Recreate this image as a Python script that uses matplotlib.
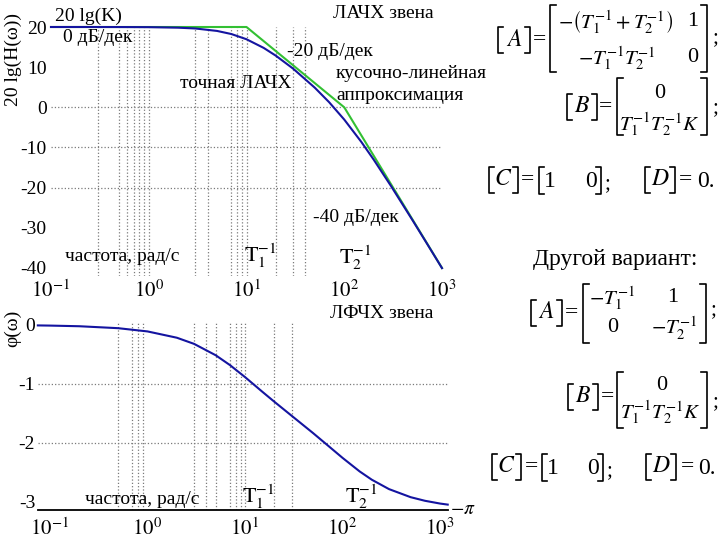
import numpy as np
import matplotlib
matplotlib.use('Agg')
import matplotlib.pyplot as plt
from matplotlib.lines import Line2D

plt.rcParams['font.family'] = ['Liberation Serif', 'DejaVu Serif']
plt.rcParams['mathtext.fontset'] = 'stix'
plt.rcParams['axes.unicode_minus'] = False

# data
freq = [0.075, 0.1, 0.2, 0.5, 1, 2, 3, 5, 7, 10, 15, 20, 30, 50, 70,
        100, 150, 200, 300, 500, 700, 1000, 1200]
mag_db = [20.0, 20.0, 20.0, 19.99, 19.96, 19.83, 19.63, 19.02, 18.25, 16.95,
          14.79, 12.84, 9.63, 4.88, 1.28, -3.05, -8.66, -13.02, -19.55,
          -28.13, -33.89, -40.04, -43.2]
phase = [-0.008, -0.011, -0.022, -0.055, -0.110, -0.217, -0.321, -0.514,
         -0.681, -0.885, -1.132, -1.304, -1.540, -1.837, -2.040, -2.256,
         -2.487, -2.628, -2.787, -2.924, -2.985, -3.032, -3.050]
asym_freq = [0.1, 10, 100, 1000]
asym_db = [20, 20, 0, -40]

grid_top = [0.3, 0.5, 0.6, 0.7, 0.8, 0.9, 1, 3, 4, 7, 8, 9, 10, 20, 30, 40]
grid_bot = [0.5, 0.7, 0.8, 0.9, 3, 4, 5, 7, 8, 9, 10, 20, 30]
xticks = [0.1, 1, 10, 100, 1000]
xticklabels = [r'$10^{-1}$', r'$10^{0}$', r'$10^{1}$', r'$10^{2}$', r'$10^{3}$']
yticks_top = [20, 10, 0, -10, -20, -30, -40]
yticks_bot = [0, -1, -2, -3]

W, H = 720, 540
BLUE = '#1414a0'
GREEN = '#33c033'
GRID = '#7a7a7a'


def fx(x):
    return x / W


def fy(y):
    return 1 - y / H


fig = plt.figure(figsize=(7.2, 5.4), dpi=100)

# ---- magnitude ----
ax1 = fig.add_axes([fx(51), fy(276), (442 - 51) / W, (276 - 27) / H])
ax1.set_xscale('log')
ax1.set_xlim(0.1, 1000)
ax1.set_ylim(-42, 20)
for f in grid_top:
    ax1.axvline(f, color=GRID, ls=':', lw=0.9)
for v in [0, -10, -20]:
    ax1.axhline(v, color=GRID, ls=':', lw=0.9)
ax1.plot(asym_freq, asym_db, color=GREEN, lw=1.5, clip_on=False)
ax1.plot(freq[1:-1], mag_db[1:-1], color=BLUE, lw=1.5, clip_on=False)
ax1.set_xticks(xticks)
ax1.set_xticklabels(xticklabels, fontsize=15)
ax1.set_yticks(yticks_top)
ax1.set_yticklabels([str(v) for v in yticks_top], fontsize=14)
ax1.xaxis.set_minor_locator(matplotlib.ticker.NullLocator())
ax1.tick_params(length=0)
ax1.tick_params(axis='x', pad=3)
ax1.tick_params(axis='y', pad=3)
for s in ax1.spines.values():
    s.set_visible(False)

# ---- phase ----
x0, x1 = 38, 448
ax2 = fig.add_axes([fx(x0), fy(510), (x1 - x0) / W, (510 - 322) / H])
ax2.set_xscale('log')
ax2.set_xlim(0.0753, 1208)
ax2.set_ylim(-np.pi, 0.05)
for f in grid_bot:
    ax2.axvline(f, color=GRID, ls=':', lw=0.9)
for v in [-1, -2]:
    ax2.axhline(v, color=GRID, ls=':', lw=0.9)
ax2.axhline(-np.pi, color='black', lw=1.3, clip_on=False)
ax2.plot(freq, phase, color=BLUE, lw=1.5, clip_on=False)
ax2.set_xticks(xticks)
ax2.set_xticklabels(xticklabels, fontsize=15)
ax2.set_yticks(yticks_bot)
ax2.set_yticklabels([str(v) for v in yticks_bot], fontsize=14)
ax2.xaxis.set_minor_locator(matplotlib.ticker.NullLocator())
ax2.tick_params(length=0)
ax2.tick_params(axis='x', pad=6)
ax2.tick_params(axis='y', pad=2)
for s in ax2.spines.values():
    s.set_visible(False)


def t(x, y, s, size=14, ha='left', **kw):
    fig.text(fx(x), fy(y), s, fontsize=size, ha=ha, va='center', **kw)


# annotations, left plots
t(13, 60, '20 lg(H(ω))', rotation=90, ha='center')
t(55, 16, '20 lg(K)')
t(63, 38, '0 дБ/дек')
t(333, 13, 'ЛАЧХ звена')
t(287, 51, '-20 дБ/дек')
t(336, 73, 'кусочно-линейная')
t(336, 95, 'аппроксимация')
t(180, 83, 'точная ЛАЧХ')
t(313, 218, '-40 дБ/дек')
t(65, 257, 'частота, рад/с')
t(260, 256, r'$\mathrm{T}_1^{-1}$', size=16, ha='center')
t(355, 258, r'$\mathrm{T}_2^{-1}$', size=16, ha='center')

t(13, 328, 'φ(ω)', rotation=90, ha='center')
t(330, 313, 'ЛФЧХ звена')
t(85, 500, 'частота, рад/с')
t(258, 497, r'$\mathrm{T}_1^{-1}$', size=16, ha='center')
t(361, 497, r'$\mathrm{T}_2^{-1}$', size=16, ha='center')
t(450, 510, r'$-\pi$', size=14)


# ---- equations on the right ----
def bracket(x, y0, y1, side, w=6, lw=1.2):
    if side == 'l':
        xs = [x + w, x, x, x + w]
    else:
        xs = [x - w, x, x, x - w]
    ys = [y0, y0, y1, y1]
    fig.add_artist(Line2D([fx(v) for v in xs], [fy(v) for v in ys],
                          transform=fig.transFigure, color='black', lw=lw))


def boxed(xl, xr, yc, letter, h=26, size=17):
    bracket(xl, yc - h / 2, yc + h / 2, 'l', w=5)
    bracket(xr, yc - h / 2, yc + h / 2, 'r', w=5)
    t((xl + xr) / 2, yc, '$' + letter + '$', size=size, ha='center')


S = 15

# first variant
boxed(498, 530, 40, 'A')
t(539, 40, '=', size=17, ha='center')
bracket(550, 5, 72, 'l')
bracket(707, 5, 72, 'r')
t(615, 22, r'$-\left(T_1^{-1}+T_2^{-1}\right)$', size=S, ha='center')
t(693, 22, '1', size=S + 1, ha='center')
t(617, 58, r'$-T_1^{-1}T_2^{-1}$', size=S, ha='center')
t(693, 58, '0', size=S + 1, ha='center')
t(713, 38, ';', size=S)

boxed(567, 597, 107, 'B')
t(606, 107, '=', size=17, ha='center')
bracket(617, 78, 135, 'l')
bracket(707, 78, 135, 'r')
t(660, 93, '0', size=S + 1, ha='center')
t(659, 124, r'$T_1^{-1}T_2^{-1}K$', size=S, ha='center')
t(713, 108, ';', size=S)

boxed(489, 518, 180, 'C')
t(528, 180, '=', size=17, ha='center')
bracket(539, 167, 194, 'l', w=5)
bracket(601, 167, 194, 'r', w=5)
t(550, 181, '1', size=S + 2, ha='center')
t(591, 181, '0', size=S + 2, ha='center')
t(605, 184, ';', size=S)
boxed(645, 675, 180, 'D')
t(686, 180, '=', size=17, ha='center')
t(697, 181, '0.', size=S + 2)

# second variant
t(615, 260, 'Другой вариант:', size=17, ha='center')

boxed(531, 562, 313, 'A')
t(571, 313, '=', size=17, ha='center')
bracket(583, 284, 343, 'l')
bracket(706, 284, 343, 'r')
t(612, 298, r'$-T_1^{-1}$', size=S, ha='center')
t(673, 298, '1', size=S + 1, ha='center')
t(613, 328, '0', size=S + 1, ha='center')
t(674, 328, r'$-T_2^{-1}$', size=S, ha='center')
t(711, 310, ';', size=S)

boxed(568, 598, 397, 'B')
t(607, 397, '=', size=17, ha='center')
bracket(617, 372, 428, 'l')
bracket(707, 372, 428, 'r')
t(662, 385, '0', size=S + 1, ha='center')
t(660, 412, r'$T_1^{-1}T_2^{-1}K$', size=S, ha='center')
t(713, 402, ';', size=S)

boxed(492, 521, 467, 'C')
t(531, 467, '=', size=17, ha='center')
bracket(542, 454, 481, 'l', w=5)
bracket(603, 454, 481, 'r', w=5)
t(553, 468, '1', size=S + 2, ha='center')
t(593, 468, '0', size=S + 2, ha='center')
t(607, 471, ';', size=S)
boxed(646, 676, 467, 'D')
t(687, 467, '=', size=17, ha='center')
t(698, 468, '0.', size=S + 2)

fig.savefig('out.png', dpi=100)
